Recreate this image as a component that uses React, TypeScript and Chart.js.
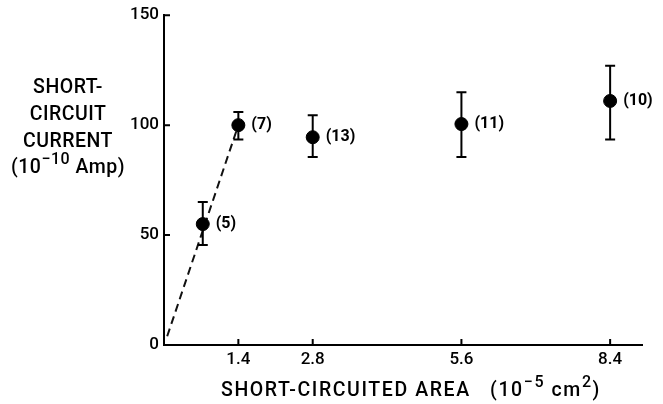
import { useEffect, useRef } from "react";
import { Chart, registerables } from "chart.js";

Chart.register(...registerables);

const FONT = "Roboto, 'Liberation Sans', Arial, sans-serif";
const WEIGHT = "500";

// Data (short-circuited area in 1e-5 cm^2, current in 1e-10 A)
const areaValues = [0.73, 1.4, 2.8, 5.6, 8.4];
const currentValues = [55, 100, 94.5, 100.5, 111];
const errorLow = [45.5, 93.5, 85.5, 85.5, 93.5];
const errorHigh = [65, 106, 104.5, 115, 127];
const countLabels = ["(5)", "(7)", "(13)", "(11)", "(10)"];

// Dashed initial-slope line
const fitLineX = [0.06, 1.4];
const fitLineY = [4, 100];

// Axis ticks
const xTicks = [1.4, 2.8, 5.6, 8.4];
const yTicks = [0, 50, 100, 150];

type Part = { text: string; sup?: boolean };

function drawRich(
  ctx: CanvasRenderingContext2D,
  parts: Part[],
  cx: number,
  cy: number,
  size: number,
  spacing: number
) {
  const supSize = Math.round(size * 0.8);
  const widths = parts.map((p) => {
    ctx.font = `${WEIGHT} ${p.sup ? supSize : size}px ${FONT}`;
    (ctx as any).letterSpacing = `${spacing}px`;
    return ctx.measureText(p.text).width;
  });
  const total = widths.reduce((a, b) => a + b, 0);
  let x = cx - total / 2;
  ctx.textAlign = "left";
  ctx.textBaseline = "middle";
  parts.forEach((p, i) => {
    ctx.font = `${WEIGHT} ${p.sup ? supSize : size}px ${FONT}`;
    (ctx as any).letterSpacing = `${spacing}px`;
    ctx.fillText(p.text, x, p.sup ? cy - size * 0.4 : cy);
    x += widths[i];
  });
  (ctx as any).letterSpacing = "0px";
}

const decorPlugin = {
  id: "decor",
  afterDraw(chart: any) {
    const { ctx, chartArea } = chart;
    const xs = chart.scales.x;
    const ys = chart.scales.y;
    ctx.save();
    ctx.strokeStyle = "#000";
    ctx.fillStyle = "#000";
    ctx.lineWidth = 2;

    // error bars
    areaValues.forEach((a, i) => {
      const px = xs.getPixelForValue(a);
      const top = ys.getPixelForValue(errorHigh[i]);
      const bot = ys.getPixelForValue(errorLow[i]);
      ctx.beginPath();
      ctx.moveTo(px, top);
      ctx.lineTo(px, bot);
      ctx.moveTo(px - 5, top);
      ctx.lineTo(px + 5, top);
      ctx.moveTo(px - 5, bot);
      ctx.lineTo(px + 5, bot);
      ctx.stroke();
    });

    // inward ticks
    ctx.beginPath();
    xTicks.forEach((v) => {
      const px = xs.getPixelForValue(v);
      ctx.moveTo(px, chartArea.bottom);
      ctx.lineTo(px, chartArea.bottom - 6);
    });
    yTicks.forEach((v) => {
      const py = ys.getPixelForValue(v);
      ctx.moveTo(chartArea.left, py);
      ctx.lineTo(chartArea.left + 6, py);
    });
    ctx.stroke();

    // count labels
    ctx.font = `bold 16px ${FONT}`;
    ctx.textAlign = "left";
    ctx.textBaseline = "middle";
    areaValues.forEach((a, i) => {
      const px = xs.getPixelForValue(a);
      const py = ys.getPixelForValue(currentValues[i]);
      ctx.fillText(countLabels[i], px + 13, py);
    });

    // y title (horizontal, multi-line)
    const yLines: Part[][] = [
      [{ text: "SHORT-" }],
      [{ text: "CIRCUIT" }],
      [{ text: "CURRENT" }],
      [{ text: "(10" }, { text: "\u221210", sup: true }, { text: " Amp)" }],
    ];
    const yLineY = [88, 115, 142, 168];
    yLines.forEach((parts, i) => drawRich(ctx, parts, 68, yLineY[i], 19.5, 0.5));

    // x title
    drawRich(
      ctx,
      [
        { text: "SHORT-CIRCUITED AREA   (10" },
        { text: "\u22125", sup: true },
        { text: " cm" },
        { text: "2", sup: true },
        { text: ")" },
      ],
      411,
      391,
      19.5,
      1.6
    );
    ctx.restore();
  },
};

export default function App() {
  const ref = useRef<HTMLCanvasElement>(null);
  useEffect(() => {
    const canvas = ref.current!;
    const chart = new Chart(canvas, {
      type: "scatter",
      data: {
        datasets: [
          {
            label: "initial slope",
            data: fitLineX.map((x, i) => ({ x, y: fitLineY[i] })),
            showLine: true,
            borderColor: "#111",
            borderWidth: 2,
            borderDash: [8, 5],
            pointRadius: 0,
            fill: false,
            order: 2,
          },
          {
            label: "current",
            data: areaValues.map((x, i) => ({ x, y: currentValues[i] })),
            showLine: false,
            pointRadius: 6.5,
            pointBackgroundColor: "#000",
            pointBorderColor: "#000",
            order: 1,
          },
        ],
      },
      options: {
        responsive: false,
        animation: false,
        devicePixelRatio: 1,
        layout: { padding: { left: 100, right: 21, top: 15, bottom: 0 } },
        plugins: { legend: { display: false }, tooltip: { enabled: false } },
        scales: {
          x: {
            type: "linear",
            min: 0,
            max: 9,
            afterBuildTicks: (scale: any) => {
              scale.ticks = xTicks.map((v) => ({ value: v }));
            },
            afterFit: (scale: any) => {
              scale.height = 59;
            },
            grid: { display: false, drawTicks: false },
            border: { display: true, color: "#000", width: 2 },
            ticks: {
              color: "#000",
              font: { family: FONT, size: 17, weight: WEIGHT },
              padding: 5,
              maxRotation: 0,
              callback: (v: any) => String(v),
            },
          },
          y: {
            type: "linear",
            min: 0,
            max: 150,
            afterBuildTicks: (scale: any) => {
              scale.ticks = yTicks.map((v) => ({ value: v }));
            },
            afterFit: (scale: any) => {
              scale.width = 64;
            },
            grid: { display: false, drawTicks: false },
            border: { display: true, color: "#000", width: 2 },
            ticks: {
              color: "#000",
              font: { family: FONT, size: 17, weight: WEIGHT },
              padding: 5,
              callback: (v: any) => String(v),
            },
          },
        },
      },
      plugins: [decorPlugin],
    } as any);
    return () => chart.destroy();
  }, []);
  return (
    <div
      style={{
        position: "absolute",
        left: 0,
        top: 0,
        width: 663,
        height: 404,
        background: "#fff",
      }}
    >
      <canvas ref={ref} width={663} height={404} style={{ display: "block" }} />
    </div>
  );
}
